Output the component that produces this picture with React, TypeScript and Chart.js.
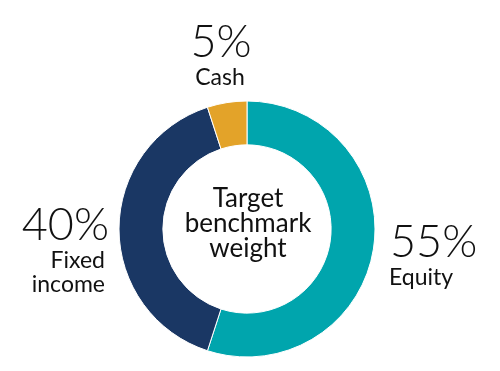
import React, { useEffect, useRef } from "react";
import { Chart, registerables } from "chart.js";

Chart.register(...registerables);

const categories = ["Equity", "Fixed income", "Cash"];
const weights = [55, 40, 5];
const colors = ["#00A5AD", "#1A3764", "#E3A329"];
const centerLines = ["Target", "benchmark", "weight"];

const labelPlugin = {
  id: "labels",
  afterDraw(chart: any) {
    const ctx = chart.ctx;
    ctx.save();
    ctx.fillStyle = "#111111";
    ctx.textBaseline = "alphabetic";
    const big = "300 45px Lato";
    const small = "400 23px Lato";
    // Cash
    ctx.textAlign = "center";
    ctx.font = big;
    ctx.fillText(`${weights[2]}%`, 221, 57);
    ctx.font = small;
    ctx.fillText(categories[2], 220, 85);
    // Fixed income
    ctx.textAlign = "right";
    ctx.font = big;
    ctx.fillText(`${weights[1]}%`, 109, 240);
    ctx.font = small;
    ctx.fillText("Fixed", 105, 268);
    ctx.fillText("income", 105, 292);
    // Equity
    ctx.textAlign = "left";
    ctx.font = big;
    ctx.fillText(`${weights[0]}%`, 390, 257);
    ctx.font = small;
    ctx.fillText(categories[0], 389, 285);
    // center
    ctx.textAlign = "center";
    ctx.font = "400 26px Lato";
    centerLines.forEach((t, i) => ctx.fillText(t, 248, 207 + i * 25));
    ctx.restore();
  },
};

export default function App() {
  const ref = useRef<HTMLCanvasElement>(null);
  useEffect(() => {
    const chart = new Chart(ref.current!, {
      type: "doughnut",
      data: {
        labels: categories,
        datasets: [
          {
            data: weights,
            backgroundColor: colors,
            borderColor: "#ffffff",
            borderWidth: 1,
          },
        ],
      },
      options: {
        responsive: false,
        animation: false,
        radius: 128,
        cutout: 93,
        layout: { padding: { top: 87, right: 6, left: 0, bottom: 0 } },
        plugins: { legend: { display: false }, tooltip: { enabled: false } },
      } as any,
      plugins: [labelPlugin],
    });
    return () => chart.destroy();
  }, []);
  return (
    <div style={{ position: "fixed", left: 0, top: 0, width: 500, height: 371, background: "#fff" }}>
      <canvas ref={ref} width={500} height={371} />
    </div>
  );
}
